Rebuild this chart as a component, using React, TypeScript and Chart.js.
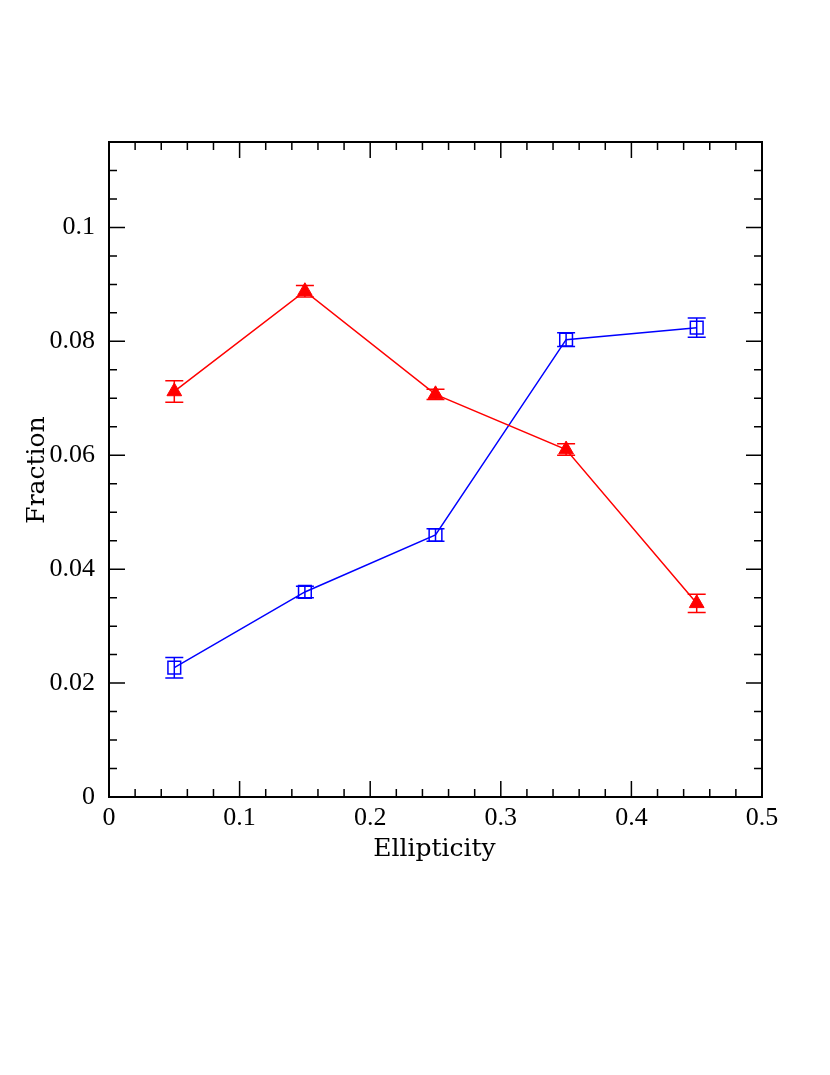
import React, { useEffect, useRef } from "react";
import { Chart, registerables } from "chart.js";

Chart.register(...registerables);

const ellipticity = [0.05, 0.15, 0.25, 0.35, 0.45];
const redFraction = [0.0712, 0.0888, 0.0707, 0.061, 0.034];
const redError = [0.0019, 0.001, 0.0009, 0.001, 0.0016];
const blueFraction = [0.0227, 0.036, 0.046, 0.0803, 0.0824];
const blueError = [0.0018, 0.001, 0.0011, 0.0012, 0.0017];
const xTickValues = [0, 0.1, 0.2, 0.3, 0.4, 0.5];
const xTickLabels = ["0", "0.1", "0.2", "0.3", "0.4", "0.5"];
const yTickValues = [0, 0.02, 0.04, 0.06, 0.08, 0.1];
const yTickLabels = ["0", "0.02", "0.04", "0.06", "0.08", "0.1"];
const xTitle = "Ellipticity";
const yTitle = "Fraction";

const RED = "rgb(255,0,0)";
const BLUE = "rgb(0,0,255)";

const errorBarPlugin = {
  id: "errorBars",
  beforeDatasetsDraw(chart: any) {
    const ctx = chart.ctx;
    const xs = chart.scales.x;
    const ys = chart.scales.y;
    chart.data.datasets.forEach((ds: any) => {
      const errs = ds.errors as number[];
      if (!errs) return;
      ctx.save();
      ctx.strokeStyle = ds.borderColor;
      ctx.lineWidth = 1.5;
      ds.data.forEach((p: any, i: number) => {
        const px = xs.getPixelForValue(p.x);
        const top = ys.getPixelForValue(p.y + errs[i]);
        const bot = ys.getPixelForValue(p.y - errs[i]);
        ctx.beginPath();
        ctx.moveTo(px, top);
        ctx.lineTo(px, bot);
        ctx.moveTo(px - 9, top);
        ctx.lineTo(px + 9, top);
        ctx.moveTo(px - 9, bot);
        ctx.lineTo(px + 9, bot);
        ctx.stroke();
      });
      ctx.restore();
    });
  },
};

const framePlugin = {
  id: "frame",
  afterDraw(chart: any) {
    const ctx = chart.ctx;
    const a = chart.chartArea;
    const xs = chart.scales.x;
    const ys = chart.scales.y;
    ctx.save();
    ctx.strokeStyle = "#000";
    ctx.lineWidth = 2;
    ctx.strokeRect(a.left, a.top, a.right - a.left, a.bottom - a.top);
    ctx.lineWidth = 1.5;
    ctx.beginPath();
    for (let k = 0; k <= 25; k++) {
      const v = k * 0.02;
      const px = xs.getPixelForValue(v);
      const len = k % 5 === 0 ? 16 : 8;
      ctx.moveTo(px, a.bottom);
      ctx.lineTo(px, a.bottom - len);
      ctx.moveTo(px, a.top);
      ctx.lineTo(px, a.top + len);
    }
    for (let k = 0; k <= 23; k++) {
      const v = k * 0.005;
      const py = ys.getPixelForValue(v);
      const len = k % 4 === 0 ? 16 : 8;
      ctx.moveTo(a.left, py);
      ctx.lineTo(a.left + len, py);
      ctx.moveTo(a.right, py);
      ctx.lineTo(a.right - len, py);
    }
    ctx.stroke();

    ctx.fillStyle = "#000";
    ctx.font = "25px 'DejaVu Serif'";
    ctx.textAlign = "center";
    ctx.textBaseline = "middle";
    ctx.fillText(xTitle, (a.left + a.right) / 2 - 1, 849);
    ctx.translate(37, 470);
    ctx.rotate(-Math.PI / 2);
    ctx.fillText(yTitle, 0, 0);
    ctx.restore();
  },
};

export default function App() {
  const ref = useRef<HTMLCanvasElement>(null);
  useEffect(() => {
    if (!ref.current) return;
    const chart = new Chart(ref.current, {
      type: "scatter",
      data: {
        datasets: [
          {
            data: ellipticity.map((x, i) => ({ x, y: redFraction[i] })),
            errors: redError,
            showLine: true,
            borderColor: RED,
            backgroundColor: RED,
            borderWidth: 1.5,
            pointStyle: "triangle",
            pointRadius: 8.5,
            pointBorderWidth: 1,
            pointBorderColor: RED,
            pointBackgroundColor: RED,
          } as any,
          {
            data: ellipticity.map((x, i) => ({ x, y: blueFraction[i] })),
            errors: blueError,
            showLine: true,
            borderColor: BLUE,
            backgroundColor: BLUE,
            borderWidth: 1.5,
            pointStyle: "rect",
            pointRadius: 9,
            pointBorderWidth: 1.5,
            pointBorderColor: BLUE,
            pointBackgroundColor: "rgba(255,255,255,0)",
          } as any,
        ],
      },
      options: {
        animation: false,
        responsive: false,
        devicePixelRatio: 1,
        layout: { padding: { top: 142, right: 68, left: 0, bottom: 0 } },
        plugins: { legend: { display: false }, tooltip: { enabled: false }, title: { display: false } },
        scales: {
          x: {
            type: "linear",
            min: 0,
            max: 0.5,
            grid: { display: false, drawTicks: false },
            border: { display: false },
            afterBuildTicks: (s: any) => {
              s.ticks = xTickValues.map((v) => ({ value: v }));
            },
            afterFit: (s: any) => {
              s.height = 278;
            },
            ticks: {
              color: "#000",
              padding: 6,
              maxRotation: 0,
              autoSkip: false,
              font: { family: "'Liberation Serif'", size: 26 },
              callback: (v: any) => xTickLabels[xTickValues.indexOf(Number(v))] ?? "",
            },
          },
          y: {
            type: "linear",
            min: 0,
            max: 0.115,
            grid: { display: false, drawTicks: false },
            border: { display: false },
            afterBuildTicks: (s: any) => {
              s.ticks = yTickValues.map((v) => ({ value: v }));
            },
            afterFit: (s: any) => {
              s.width = 109;
            },
            ticks: {
              color: "#000",
              padding: 14,
              autoSkip: false,
              font: { family: "'Liberation Serif'", size: 26 },
              callback: (v: any) => yTickLabels[yTickValues.indexOf(Number(v))] ?? "",
            },
          },
        },
      },
      plugins: [errorBarPlugin, framePlugin],
    });
    return () => chart.destroy();
  }, []);
  return (
    <div style={{ position: "absolute", left: 0, top: 0, width: 830, height: 1075, background: "#fff" }}>
      <canvas ref={ref} width={830} height={1075} style={{ width: 830, height: 1075 }} />
    </div>
  );
}
